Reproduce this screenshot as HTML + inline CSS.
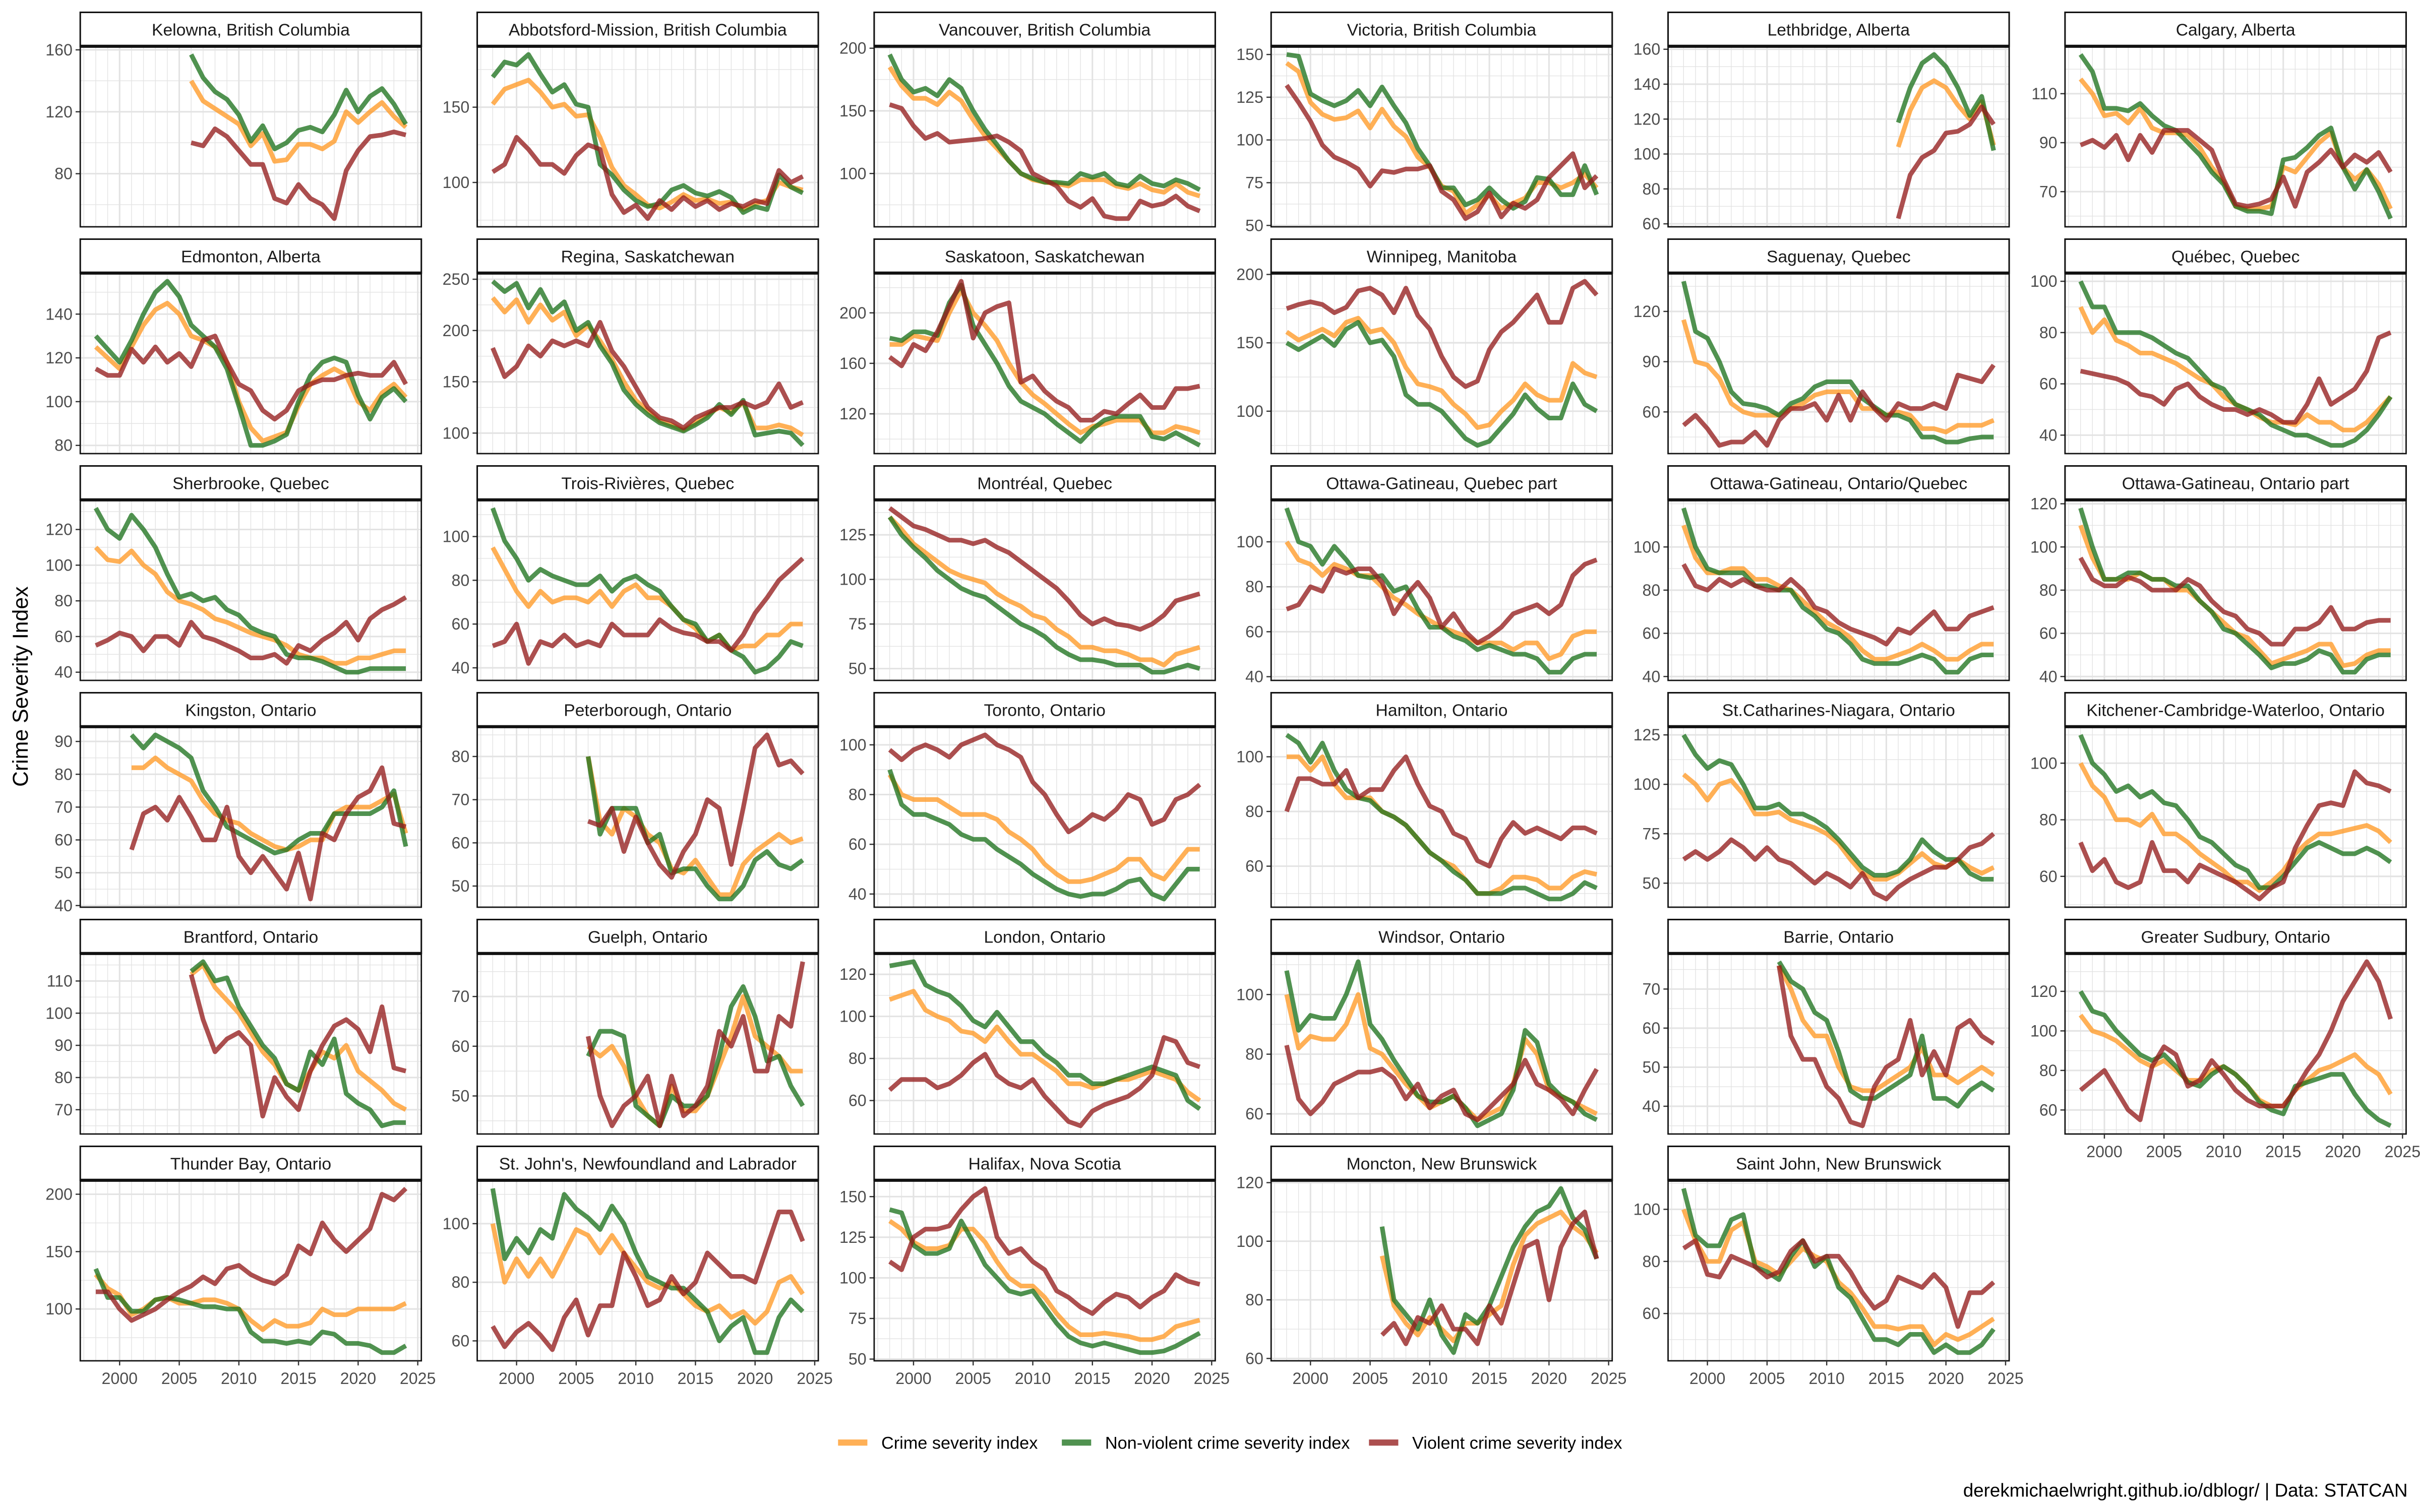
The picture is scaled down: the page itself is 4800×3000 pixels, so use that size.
<!DOCTYPE html>
<html><head><meta charset="utf-8"><title>Crime Severity Index</title>
<style>html,body{margin:0;padding:0;background:#fff}svg{display:block}</style></head>
<body>
<svg id="chart" xmlns="http://www.w3.org/2000/svg" width="4800" height="3000" viewBox="0 0 1568 980" font-family="Liberation Sans, sans-serif"></svg>
<script>
const years = [1998,1999,2000,2001,2002,2003,2004,2005,2006,2007,2008,2009,2010,2011,2012,2013,2014,2015,2016,2017,2018,2019,2020,2021,2022,2023,2024];
const xTicks = [2000,2005,2010,2015,2020,2025];
const cityNames = ["Kelowna, British Columbia","Abbotsford-Mission, British Columbia","Vancouver, British Columbia","Victoria, British Columbia","Lethbridge, Alberta","Calgary, Alberta",
"Edmonton, Alberta","Regina, Saskatchewan","Saskatoon, Saskatchewan","Winnipeg, Manitoba","Saguenay, Quebec","Québec, Quebec",
"Sherbrooke, Quebec","Trois-Rivières, Quebec","Montréal, Quebec","Ottawa-Gatineau, Quebec part","Ottawa-Gatineau, Ontario/Quebec","Ottawa-Gatineau, Ontario part",
"Kingston, Ontario","Peterborough, Ontario","Toronto, Ontario","Hamilton, Ontario","St.Catharines-Niagara, Ontario","Kitchener-Cambridge-Waterloo, Ontario",
"Brantford, Ontario","Guelph, Ontario","London, Ontario","Windsor, Ontario","Barrie, Ontario","Greater Sudbury, Ontario",
"Thunder Bay, Ontario","St. John's, Newfoundland and Labrador","Halifax, Nova Scotia","Moncton, New Brunswick","Saint John, New Brunswick"];
const yTicks = [[80,120,160],[100,150],[100,150,200],[50,75,100,125,150],[60,80,100,120,140,160],[70,90,110,130],
[80,100,120,140],[100,150,200,250],[120,160,200],[100,150,200],[30,60,90,120],[40,60,80,100],
[40,60,80,100,120],[40,60,80,100],[50,75,100,125],[40,60,80,100],[40,60,80,100],[40,60,80,100,120],
[40,50,60,70,80,90],[50,60,70,80],[40,60,80,100],[60,80,100],[50,75,100,125],[60,80,100],
[70,80,90,100,110],[50,60,70],[60,80,100,120],[60,80,100],[30,40,50,60,70,80],[60,80,100,120],
[100,150,200],[60,80,100],[50,75,100,125,150],[60,80,100,120],[60,80,100]];
const crimeIndex = [
[null,null,null,null,null,null,null,null,140,127,122,117,112,98,106,88,89,99,99,96,101,120,113,120,126,117,110],
[152,162,165,168,160,150,152,144,145,130,110,98,92,85,83,87,92,88,89,86,87,82,86,88,100,97,95],
[185,170,160,160,155,165,158,143,130,120,110,100,95,93,92,90,95,95,95,90,88,92,87,85,92,85,82],
[145,140,122,115,112,113,117,107,118,108,102,90,84,73,70,57,62,68,60,63,66,75,75,72,75,80,72],
[null,null,null,null,null,null,null,null,null,null,null,null,null,null,null,null,null,null,104,125,138,142,138,128,120,130,105],
[116,110,101,102,98,104,96,94,94,93,88,80,74,64,63,63,64,80,78,84,90,94,80,75,79,73,63],
[125,120,115,125,135,142,145,140,130,128,125,118,100,88,82,84,86,98,108,112,115,112,100,96,104,108,102],
[232,218,230,208,225,210,218,195,205,190,172,150,132,122,112,108,103,110,118,125,120,130,105,105,108,105,98],
[175,175,182,180,178,200,218,200,190,178,160,145,135,128,120,112,105,110,112,115,115,115,105,105,110,108,105],
[158,152,156,160,155,165,168,158,160,150,132,120,118,115,105,98,88,90,100,108,120,112,108,108,135,128,125],
[115,90,88,80,65,60,58,58,58,62,65,70,72,72,72,62,62,58,60,58,50,50,48,52,52,52,55],
[90,80,85,77,75,72,72,70,68,65,62,60,55,52,50,47,45,45,44,48,45,45,42,42,45,50,55],
[110,103,102,108,100,95,85,80,78,75,70,68,65,62,60,58,55,50,48,48,45,45,48,48,50,52,52],
[95,85,75,68,75,70,72,72,70,75,68,75,78,72,72,68,62,58,52,55,48,50,50,55,55,60,60],
[135,128,120,115,110,105,102,100,98,92,88,85,80,78,72,68,62,62,60,60,58,55,55,52,58,60,62],
[100,92,90,85,90,88,85,85,80,75,72,68,65,62,60,58,55,55,55,52,55,55,48,50,58,60,60],
[110,95,88,88,90,90,85,85,82,80,75,70,65,62,58,52,48,48,50,52,55,52,48,48,52,55,55],
[110,95,85,85,85,88,85,85,80,80,75,70,65,60,58,52,46,48,50,52,55,55,45,46,50,52,52],
[null,null,null,82,82,85,82,80,78,72,68,66,65,62,60,58,57,58,60,60,68,70,70,70,72,74,62],
[null,null,null,null,null,null,null,null,80,65,62,68,66,62,60,54,53,56,52,48,48,55,58,60,62,60,61],
[88,80,78,78,78,75,72,72,72,70,65,62,58,52,48,45,45,46,48,50,54,54,48,46,52,58,58],
[100,100,95,100,90,85,85,85,80,78,75,70,65,62,60,55,50,50,52,56,56,55,52,52,56,58,57],
[105,100,92,100,102,95,85,85,86,82,80,78,75,70,62,55,52,52,55,60,65,60,58,62,58,55,58],
[100,92,88,80,80,78,82,75,75,72,68,65,62,58,58,55,58,62,68,72,75,75,76,77,78,76,72],
[null,null,null,null,null,null,null,null,112,115,108,104,100,94,88,84,78,76,82,88,86,90,82,79,76,72,70],
[null,null,null,null,null,null,null,null,60,58,60,56,50,46,44,52,47,47,50,56,62,70,62,60,58,55,55],
[108,110,112,103,100,98,93,92,88,95,88,82,82,78,74,68,68,66,68,70,70,72,74,72,70,64,60],
[100,82,86,85,85,90,100,82,80,75,70,66,62,64,66,62,58,60,62,70,85,80,68,66,64,62,60],
[null,null,null,null,null,null,null,null,76,70,62,58,58,50,45,44,44,46,48,50,55,48,48,46,48,50,48],
[108,100,98,95,90,85,82,85,80,75,75,80,82,78,72,65,62,62,70,75,80,82,85,88,82,78,68],
[130,118,112,95,100,108,110,105,105,108,108,105,100,90,82,90,85,85,88,100,95,95,100,100,100,100,105],
[100,80,88,82,88,82,90,98,96,90,96,90,85,80,78,80,76,72,70,72,68,70,66,70,80,82,76],
[135,130,122,118,118,120,130,130,122,110,100,95,95,88,78,70,65,65,66,65,64,62,62,64,70,72,74],
[null,null,null,null,null,null,null,null,95,78,72,68,74,70,66,72,72,75,78,92,102,106,108,110,105,102,96],
[100,88,80,80,92,95,80,78,75,80,85,82,80,72,68,62,55,55,54,55,55,48,52,50,52,55,58]];
const nonViolentIndex = [
[null,null,null,null,null,null,null,null,157,142,133,128,118,101,111,96,100,108,110,107,118,134,120,130,135,125,112],
[170,180,178,185,172,160,165,152,150,112,105,95,88,84,86,95,98,93,91,94,90,80,84,82,105,97,93],
[195,175,165,168,162,175,168,150,135,123,110,100,96,93,93,92,100,97,100,92,90,98,92,90,95,92,87],
[150,149,127,123,120,123,129,120,131,120,110,95,85,72,72,62,65,72,65,60,64,78,77,68,68,85,68],
[null,null,null,null,null,null,null,null,null,null,null,null,null,null,null,null,null,null,118,138,152,157,150,138,122,133,102],
[126,119,104,104,103,106,101,97,95,90,85,78,73,64,62,62,61,83,84,88,93,96,80,71,79,70,59],
[130,124,118,128,140,150,155,148,135,130,125,115,98,80,80,82,85,100,112,118,120,118,103,92,102,106,100],
[248,238,246,222,240,218,228,200,208,185,168,142,128,118,110,106,102,108,115,128,118,132,98,100,102,100,88],
[180,178,185,185,182,208,222,190,175,160,142,130,125,120,112,105,98,108,115,118,118,118,102,100,105,100,95],
[150,145,150,155,148,160,165,150,152,140,112,105,105,100,90,80,75,78,88,98,112,102,95,95,120,105,100],
[138,108,104,90,72,65,64,62,58,65,68,75,78,78,78,68,63,58,58,55,45,45,42,42,44,45,45],
[100,90,90,80,80,80,78,75,72,70,65,60,58,52,50,48,44,42,40,40,38,36,36,38,42,48,55],
[132,120,115,128,120,110,95,82,84,80,82,75,72,65,62,60,50,48,48,46,43,40,40,42,42,42,42],
[113,98,90,80,85,82,80,78,78,82,75,80,82,78,75,68,62,60,52,55,48,45,38,40,45,52,50],
[135,125,118,112,105,100,95,92,90,85,80,75,72,68,62,58,55,55,54,52,52,52,48,48,50,52,50],
[115,100,98,90,98,92,85,84,85,78,80,70,62,62,58,56,52,54,52,50,50,48,42,42,48,50,50],
[118,100,90,88,88,88,82,82,80,80,72,68,62,60,55,48,46,46,46,48,50,48,42,42,48,50,50],
[118,100,85,85,88,88,85,85,82,82,75,70,62,60,55,50,44,46,46,48,52,50,42,42,48,50,50],
[null,null,null,92,88,92,90,88,85,75,70,64,62,60,58,56,57,60,62,62,68,68,68,68,70,75,58],
[null,null,null,null,null,null,null,null,80,62,68,68,68,60,62,53,54,54,50,47,47,50,56,58,55,54,56],
[90,76,72,72,70,68,64,62,62,58,55,52,48,45,42,40,39,40,40,42,45,46,40,38,44,50,50],
[108,105,98,105,95,88,85,84,80,78,75,70,65,62,58,55,50,50,50,52,52,50,48,48,50,54,52],
[125,115,108,112,110,100,88,88,90,85,85,82,78,72,65,58,54,54,56,62,72,66,62,62,55,52,52],
[110,100,96,90,92,88,90,86,85,80,74,72,68,64,62,56,56,60,65,70,72,70,68,68,70,68,65],
[null,null,null,null,null,null,null,null,113,116,110,111,102,96,90,86,78,76,88,84,92,75,72,70,65,66,66],
[null,null,null,null,null,null,null,null,58,63,63,62,48,46,44,50,48,48,50,58,68,72,66,57,58,52,48],
[124,125,126,115,112,110,105,98,95,102,95,88,88,82,78,72,72,68,68,70,72,74,76,74,72,60,56],
[108,88,93,92,92,100,111,90,85,78,72,66,64,64,66,62,56,58,60,68,88,84,70,66,64,60,58],
[null,null,null,null,null,null,null,null,77,72,70,64,62,54,44,42,42,44,46,48,58,42,42,40,44,46,44],
[120,110,108,100,94,88,85,88,82,74,72,78,82,78,72,64,60,58,72,74,76,78,78,68,60,55,52],
[135,110,110,98,98,108,110,108,105,102,102,100,100,80,72,72,70,72,70,80,78,70,70,68,62,62,68],
[112,88,95,90,98,95,110,105,102,98,106,100,90,82,80,78,78,74,70,60,65,68,56,56,68,74,70],
[142,140,120,115,115,118,135,122,108,100,92,90,92,82,72,64,60,58,60,58,56,54,54,55,58,62,66],
[null,null,null,null,null,null,null,null,105,80,75,70,80,68,62,75,72,78,88,98,105,110,112,118,108,104,94],
[108,90,86,86,96,98,78,76,73,82,88,78,82,70,66,58,50,50,48,52,52,45,48,45,45,48,54]];
const violentIndex = [
[null,null,null,null,null,null,null,null,100,98,109,104,95,86,86,64,61,73,64,60,51,82,95,104,105,107,105],
[107,112,130,122,112,112,106,118,125,122,92,80,85,76,88,82,90,84,88,82,86,84,88,86,108,100,104],
[155,152,138,128,132,125,126,127,128,130,125,118,100,95,90,78,73,80,66,64,64,78,74,76,82,74,70],
[132,122,111,97,90,87,83,73,82,81,83,83,85,70,65,54,58,69,55,63,60,65,78,85,92,72,79],
[null,null,null,null,null,null,null,null,null,null,null,null,null,null,null,null,null,null,63,88,98,102,112,113,117,127,117],
[89,91,88,93,83,93,86,95,95,95,91,87,75,65,64,65,67,76,64,78,82,87,80,85,82,86,78],
[115,112,112,124,118,125,118,122,116,128,130,118,108,105,96,92,96,105,108,110,110,112,113,112,112,118,108],
[183,155,165,185,175,190,185,190,185,208,180,165,145,125,115,112,105,115,120,125,125,130,125,130,148,125,130],
[165,158,175,170,185,205,225,180,200,205,208,145,150,138,130,125,115,115,122,120,128,135,125,125,140,140,142],
[175,178,180,178,172,176,188,190,185,172,190,170,160,140,125,118,122,145,158,165,175,185,165,165,190,195,185],
[52,58,50,40,42,42,48,40,55,62,62,65,55,70,55,72,62,55,65,62,62,65,62,82,80,78,88],
[65,64,63,62,60,56,55,52,58,60,55,52,50,50,48,50,48,45,45,52,62,52,55,58,65,78,80],
[55,58,62,60,52,60,60,55,68,60,58,55,52,48,48,50,45,55,52,58,62,68,58,70,75,78,82],
[50,52,60,42,52,50,55,50,52,50,60,55,55,55,62,58,56,55,52,52,48,55,65,72,80,85,90],
[140,135,130,128,125,122,122,120,122,118,115,110,105,100,95,88,80,75,78,75,74,72,75,80,88,90,92],
[70,72,80,78,88,86,88,88,82,68,76,82,75,62,68,60,55,58,62,68,70,72,68,72,85,90,92],
[92,82,80,85,82,85,82,80,80,85,80,72,70,65,62,60,58,55,62,60,65,70,62,62,68,70,72],
[95,85,82,82,86,84,80,80,80,85,82,75,70,68,62,60,55,55,62,62,65,72,62,62,65,66,66],
[null,null,null,57,68,70,66,73,67,60,60,70,55,50,55,50,45,56,42,62,60,68,73,75,82,65,64],
[null,null,null,null,null,null,null,null,65,64,68,58,66,60,55,52,58,62,70,68,55,68,82,85,78,79,76],
[98,94,98,100,98,95,100,102,104,100,98,95,85,80,72,65,68,72,70,74,80,78,68,70,78,80,84],
[80,92,92,90,90,95,85,88,88,95,100,90,82,80,72,70,62,60,70,76,72,74,72,70,74,74,72],
[62,66,62,66,72,68,62,68,62,60,55,50,55,52,48,55,45,42,48,52,55,58,58,62,68,70,75],
[72,62,66,58,56,58,72,62,62,58,64,62,60,58,55,52,56,58,70,78,85,86,85,97,93,92,90],
[null,null,null,null,null,null,null,null,112,98,88,92,94,90,68,80,74,70,82,90,96,98,95,88,102,83,82],
[null,null,null,null,null,null,null,null,62,50,44,48,50,54,44,54,46,48,52,63,60,66,55,55,66,64,77],
[65,70,70,70,66,68,72,78,82,72,68,66,70,62,56,50,48,55,58,60,62,66,72,90,88,78,76],
[83,65,60,64,70,72,74,74,75,72,65,70,62,66,68,60,58,62,66,70,78,70,68,65,60,68,75],
[null,null,null,null,null,null,null,null,76,58,52,52,45,42,36,35,45,50,52,62,48,54,48,60,62,58,56],
[70,75,80,70,60,55,82,92,88,72,75,85,78,70,65,62,62,62,70,80,88,100,115,125,135,125,106],
[115,115,100,90,95,100,108,115,120,128,122,135,138,130,125,122,130,155,148,175,160,150,160,170,200,195,205],
[65,58,63,66,62,57,68,74,62,72,72,90,82,72,74,82,76,80,90,86,82,82,80,92,104,104,94],
[110,105,125,130,130,132,142,150,155,125,115,118,110,105,92,88,82,78,85,90,88,82,88,92,102,98,96],
[null,null,null,null,null,null,null,null,68,72,65,74,72,78,70,70,65,78,72,85,98,100,80,98,106,110,94],
[85,88,75,74,82,80,78,74,76,84,88,80,82,82,76,68,62,65,74,72,70,75,70,55,68,68,72]];
const seriesLabels = ["Crime severity index","Non-violent crime severity index","Violent crime severity index"];
const seriesColors = ["#ff9a26","#1f731f","#951e1e"];

const NS = "http://www.w3.org/2000/svg";
const svg = document.getElementById("chart");
function mk(tag, attrs, parent){ const e=document.createElementNS(NS,tag); for(const k in attrs) e.setAttribute(k,attrs[k]); (parent||svg).appendChild(e); return e; }

mk("rect",{x:0,y:0,width:1568,height:980,fill:"#fff"});
const PW=221, X0=1996.7, X1=2025.3;
const allSeries=[crimeIndex,nonViolentIndex,violentIndex];
const seriesNames=["crime-line","non-violent-line","violent-line"];

for(let i=0;i<cityNames.length;i++){
  const col=i%6,row=Math.floor(i/6);
  const L=52+257.2*col, T=8+147*row, pT=T+22, pB=T+139;
  const g=mk("g",{});
  
  
  let lo=Infinity,hi=-Infinity;
  allSeries.forEach(s=>s[i].forEach(v=>{ if(v!==null){lo=Math.min(lo,v);hi=Math.max(hi,v);} }));
  const pad=(hi-lo)*0.05; lo-=pad; hi+=pad;
  const xs=yr=>L+(yr-X0)/(X1-X0)*PW;
  const ys=v=>pB-(v-lo)/(hi-lo)*(pB-pT);
  for(let yr=1997;yr<=2025;yr++){ const major=yr%5===0; mk("line",{x1:xs(yr),x2:xs(yr),y1:pT,y2:pB,stroke:"#e3e3e3","stroke-width":major?1:0.45},g); }
  const tk=yTicks[i], step=tk[1]-tk[0];
  for(let v=tk[0]-step/2; v<=tk[tk.length-1]+step; v+=step/2){
    if(v<lo||v>hi) continue;
    const isMajor=tk.includes(v);
    mk("line",{x1:L,x2:L+PW,y1:ys(v),y2:ys(v),stroke:"#e3e3e3","stroke-width":isMajor?1:0.45},g);
  }
  tk.forEach(v=>{ if(v<lo||v>hi) return;
    mk("line",{x1:L-3,x2:L,y1:ys(v),y2:ys(v),stroke:"#333","stroke-width":0.8},g);
    const t=mk("text",{x:L-5,y:ys(v)+3.6,"text-anchor":"end","font-size":10.5,fill:"#4d4d4d"},g); t.textContent=v;
    
    
  });
  allSeries.forEach((s,k)=>{
    let d="",pen=false;
    s[i].forEach((v,j)=>{ if(v===null){pen=false;return;} d+=(pen?"L":"M")+xs(years[j]).toFixed(2)+" "+ys(v).toFixed(2); pen=true; });
    const p=mk("path",{d:d,fill:"none",stroke:seriesColors[k],"stroke-opacity":0.78,"stroke-width":3,"stroke-linejoin":"round"},g);
    
    
  });
  mk("rect",{x:L,y:pT,width:PW,height:pB-pT,fill:"none",stroke:"#111","stroke-width":0.9},g);
  const sr=mk("rect",{x:L,y:T,width:PW,height:22,fill:"#fff",stroke:"#111","stroke-width":1},g);
  
  
  mk("line",{x1:L,x2:L+PW,y1:pT,y2:pT,stroke:"#111","stroke-width":2},g);
  const st=mk("text",{x:L+PW/2,y:T+15,"text-anchor":"middle","font-size":11,fill:"#1a1a1a"},g); st.textContent=cityNames[i];
  
  
  if(row===5||(row===4&&col===5)){
    xTicks.forEach(yr=>{
      mk("line",{x1:xs(yr),x2:xs(yr),y1:pB,y2:pB+3,stroke:"#333","stroke-width":0.8},g);
      const t=mk("text",{x:xs(yr),y:pB+15,"text-anchor":"middle","font-size":10.5,fill:"#4d4d4d"},g); t.textContent=yr;
      
      
    });
  }
}
const yt=mk("text",{x:0,y:0,transform:"translate(18,445) rotate(-90)","text-anchor":"middle","font-size":14,fill:"#000"}); yt.textContent="Crime Severity Index";


const legX=[543,688,887];
seriesLabels.forEach((lab,k)=>{
  const lg=mk("g",{});
  
  
  mk("line",{x1:legX[k],x2:legX[k]+19,y1:935,y2:935,stroke:seriesColors[k],"stroke-opacity":0.78,"stroke-width":4},lg);
  const t=mk("text",{x:legX[k]+28,y:939,"font-size":11.2,fill:"#000"},lg); t.textContent=lab;
});
const cap=mk("text",{x:1560,y:970,"text-anchor":"end","font-size":12,fill:"#000"}); cap.textContent="derekmichaelwright.github.io/dblogr/ | Data: STATCAN";


</script>
</body></html>
